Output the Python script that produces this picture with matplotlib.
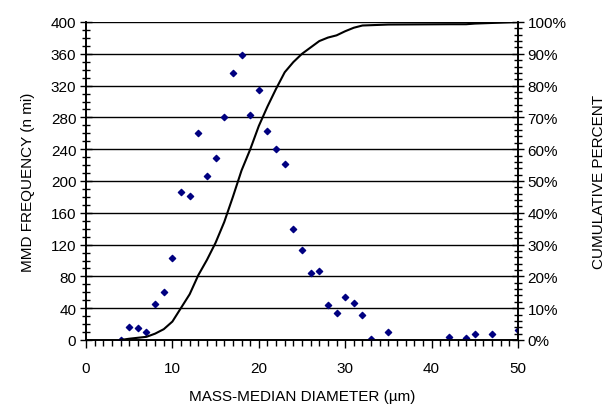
import numpy as np
import matplotlib
matplotlib.use("Agg")
import matplotlib.pyplot as plt
from matplotlib.ticker import MultipleLocator, FuncFormatter

plt.rcParams['font.family'] = ['Liberation Sans', 'DejaVu Sans']

# MMD frequency (scatter)
diam = [4, 5, 6, 7, 8, 9, 10, 11, 12, 13, 14, 15, 16, 17, 18, 19, 20, 21,
        22, 23, 24, 25, 26, 27, 28, 29, 30, 31, 32, 33, 35, 42, 44, 45, 47, 50]
freq = [0, 16, 15, 10, 45, 60, 103, 186, 181, 260, 206, 229, 281, 336, 359,
        283, 315, 263, 240, 221, 139, 113, 84, 87, 44, 34, 54, 47, 31, 1, 10,
        4, 3, 7, 8, 13]

# cumulative percent curve
cum_pct = [0, 0.4, 0.7, 1.0, 2.0, 3.4, 5.8, 10.1, 14.4, 20.4, 25.2, 30.6,
           37.1, 45.0, 53.3, 59.9, 67.3, 73.4, 79.0, 84.2, 87.4, 90.0, 92.0,
           94.0, 95.1, 95.8, 97.1, 98.2, 98.9, 99.0, 99.2, 99.3, 99.3, 99.5,
           99.7, 100.0]

fig = plt.figure(figsize=(6.13, 4.06), dpi=100)
ax = fig.add_axes([86 / 613, 1 - 341 / 406, 432 / 613, 318 / 406])
ax2 = ax.twinx()

# gridlines
for v in range(40, 401, 40):
    ax.axhline(v, color='black', lw=1.0, zorder=1)

ax.scatter(diam, freq, marker='D', s=10, color='#000080', zorder=3)
ax2.plot(diam, cum_pct, color='black', lw=1.5, zorder=2)

ax.set_xlim(0, 50)
ax.set_ylim(0, 400)
ax2.set_ylim(0, 100)

ax.xaxis.set_major_locator(MultipleLocator(10))
ax.xaxis.set_minor_locator(MultipleLocator(1))
ax.yaxis.set_major_locator(MultipleLocator(40))
ax.yaxis.set_minor_locator(MultipleLocator(10))
ax2.yaxis.set_major_locator(MultipleLocator(10))
ax2.yaxis.set_minor_locator(MultipleLocator(2))
ax2.yaxis.set_major_formatter(FuncFormatter(lambda v, p: f"{int(v)}%"))

ax.tick_params(axis='x', which='major', direction='out', length=6, width=1, labelsize=11, pad=9)
ax.tick_params(axis='x', which='minor', direction='out', length=4, width=1)
ax.tick_params(axis='y', which='major', direction='inout', length=8, width=1, labelsize=11, pad=3)
ax.tick_params(axis='y', which='minor', direction='inout', length=6, width=1)
ax2.tick_params(axis='y', which='major', direction='inout', length=8, width=1, labelsize=11, pad=3)
ax2.tick_params(axis='y', which='minor', direction='inout', length=6, width=1)

for a in (ax, ax2):
    a.spines['top'].set_visible(False)
    for s in a.spines.values():
        s.set_linewidth(1.2)

ax.set_xlabel('MASS-MEDIAN DIAMETER (µm)', fontsize=11, labelpad=10)
ax.set_ylabel('MMD FREQUENCY (n mi)', fontsize=11, labelpad=11)
ax2.set_ylabel('CUMULATIVE PERCENT', fontsize=11, rotation=90, labelpad=18)

fig.savefig('out.png', dpi=100)
